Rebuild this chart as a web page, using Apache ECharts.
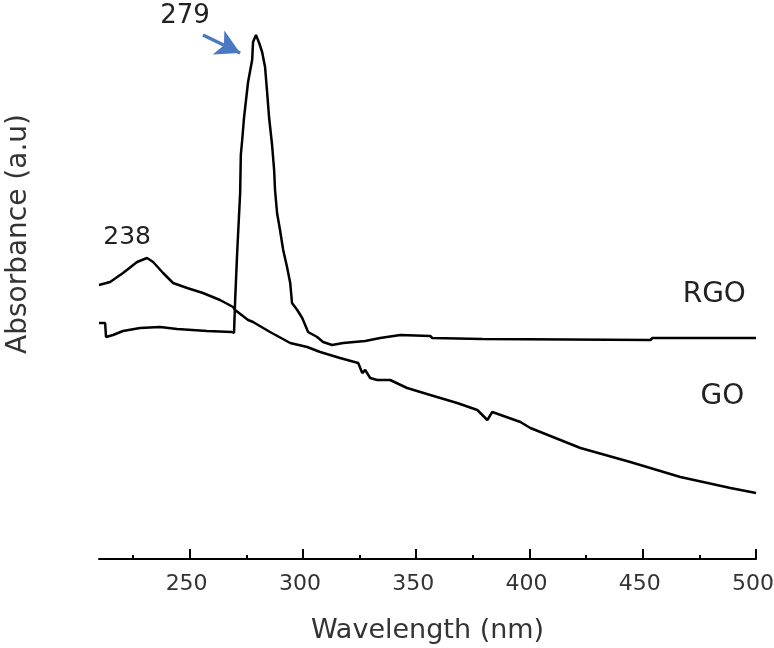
<!DOCTYPE html>
<html>
<head>
<meta charset="utf-8">
<script src="https://cdn.jsdelivr.net/npm/echarts@6/dist/echarts.min.js"></script>
<style>
  html, body { margin: 0; padding: 0; background: #fff; }
  #chart { width: 774px; height: 648px; }
</style>
</head>
<body>
<div id="chart"></div>
<script>
// wavelength (nm) and absorbance (a.u)
var rgoWavelength = [210, 212.7, 213.1, 216.2, 220.6, 228.1, 236.9, 244.5, 257.7, 268.7, 269.6, 270.1, 271.0,
  272.3, 272.6, 273.2, 274.0, 274.9, 275.8, 277.6, 278.0, 279.3, 280.7, 282.0, 283.3, 284.2, 285.1, 286.4,
  287.3, 287.7, 288.6, 289.9, 291.3, 293.0, 294.4, 295.2, 297.5, 299.7, 302.3, 306.3, 308.9, 312.9, 317.8,
  327.5, 334.1, 343.0, 356.2, 357.1, 379.2, 453.4, 454.3, 500];
var rgoAbsorbance = [2.36, 2.36, 2.22, 2.24, 2.28, 2.31, 2.32, 2.30, 2.28, 2.27, 2.26, 2.59, 3.07,
  3.66, 4.04, 4.19, 4.41, 4.59, 4.77, 4.99, 5.17, 5.24, 5.16, 5.07, 4.92, 4.67, 4.41, 4.14,
  3.89, 3.69, 3.46, 3.29, 3.09, 2.92, 2.76, 2.56, 2.49, 2.41, 2.27, 2.22, 2.17, 2.14, 2.16,
  2.18, 2.21, 2.24, 2.23, 2.21, 2.20, 2.19, 2.21, 2.21];

var goWavelength = [210, 214.9, 220.6, 226.8, 231.2, 233.9, 238.3, 242.7, 248.9, 255.9, 263.4, 269.2, 270.1,
  275.8, 278.0, 285.5, 294.4, 301.9, 307.6, 316.4, 324.4, 326.2, 327.5, 329.7, 332.8, 338.5, 346.0, 356.2,
  368.1, 377.0, 381.4, 383.6, 396.0, 400.4, 422.5, 444.5, 466.6, 488.7, 500];
var goAbsorbance = [2.74, 2.77, 2.86, 2.97, 3.01, 2.97, 2.86, 2.76, 2.71, 2.66, 2.59, 2.52, 2.49,
  2.39, 2.37, 2.27, 2.16, 2.12, 2.07, 2.01, 1.96, 1.86, 1.89, 1.81, 1.79, 1.79, 1.71, 1.64,
  1.56, 1.49, 1.39, 1.47, 1.37, 1.31, 1.11, 0.97, 0.82, 0.71, 0.66];

var majorTicks = [250, 300, 350, 400, 450, 500];
var minorTicks = [225, 275, 325, 375, 425, 475];

function pairs(xs, ys) {
  return xs.map(function (x, i) { return [x, ys[i]]; });
}

var font = 'DejaVu Sans';
var chart = echarts.init(document.getElementById('chart'));

function note(text, x, y, size) {
  return {
    coord: [x, y],
    symbol: 'circle',
    symbolSize: 0,
    label: {
      show: true, position: 'inside', formatter: text,
      fontFamily: font, fontSize: size, color: '#222'
    }
  };
}

var option = {
  backgroundColor: '#fff',
  animation: false,
  grid: { left: 99, right: 18, top: 0, bottom: 89, outerBoundsMode: 'none', containLabel: false },
  xAxis: [{
    type: 'value',
    min: 210,
    max: 500,
    name: 'Wavelength (nm)',
    nameLocation: 'middle',
    nameGap: 58,
    nameTextStyle: { fontFamily: font, fontSize: 27, color: '#333' },
    axisLine: { lineStyle: { color: '#000', width: 2 } },
    axisTick: { inside: true, length: 10, customValues: majorTicks, lineStyle: { color: '#000', width: 2 } },
    axisLabel: {
      customValues: majorTicks, margin: 14, padding: [0, 6, 0, 0],
      fontFamily: font, fontSize: 22, color: '#333'
    },
    splitLine: { show: false }
  }, {
    type: 'value',
    min: 210,
    max: 500,
    position: 'bottom',
    axisLine: { show: false },
    axisTick: { inside: true, length: 4, customValues: minorTicks, lineStyle: { color: '#000', width: 2 } },
    axisLabel: { show: false },
    splitLine: { show: false }
  }],
  yAxis: {
    type: 'value',
    min: 0,
    max: 5.59,
    axisLine: { show: false },
    axisTick: { show: false },
    axisLabel: { show: false },
    splitLine: { show: false }
  },
  graphic: [{
    type: 'text',
    x: 19,
    y: 234,
    rotation: Math.PI / 2,
    style: {
      text: 'Absorbance (a.u)',
      fontFamily: font, fontSize: 28, fill: '#333',
      align: 'center', verticalAlign: 'middle'
    }
  }],
  series: [{
    name: 'RGO',
    type: 'line',
    data: pairs(rgoWavelength, rgoAbsorbance),
    showSymbol: false,
    lineStyle: { color: '#000', width: 2.5 },
    markPoint: {
      data: [note('279', 248, 5.43, 26), note('238', 222.4, 3.22, 25), note('RGO', 481.6, 2.64, 28)]
    },
    markLine: {
      silent: true,
      symbol: ['none', 'arrow'],
      symbolSize: [20, 24],
      lineStyle: { color: '#4a78c2', width: 3.5, type: 'solid' },
      label: { show: false },
      data: [[{ coord: [255.9, 5.24] }, { coord: [272.3, 5.06] }]]
    }
  }, {
    name: 'GO',
    type: 'line',
    data: pairs(goWavelength, goAbsorbance),
    showSymbol: false,
    lineStyle: { color: '#000', width: 2.5 },
    markPoint: {
      data: [note('GO', 485.2, 1.62, 28)]
    }
  }]
};
chart.setOption(option);
</script>
</body>
</html>
